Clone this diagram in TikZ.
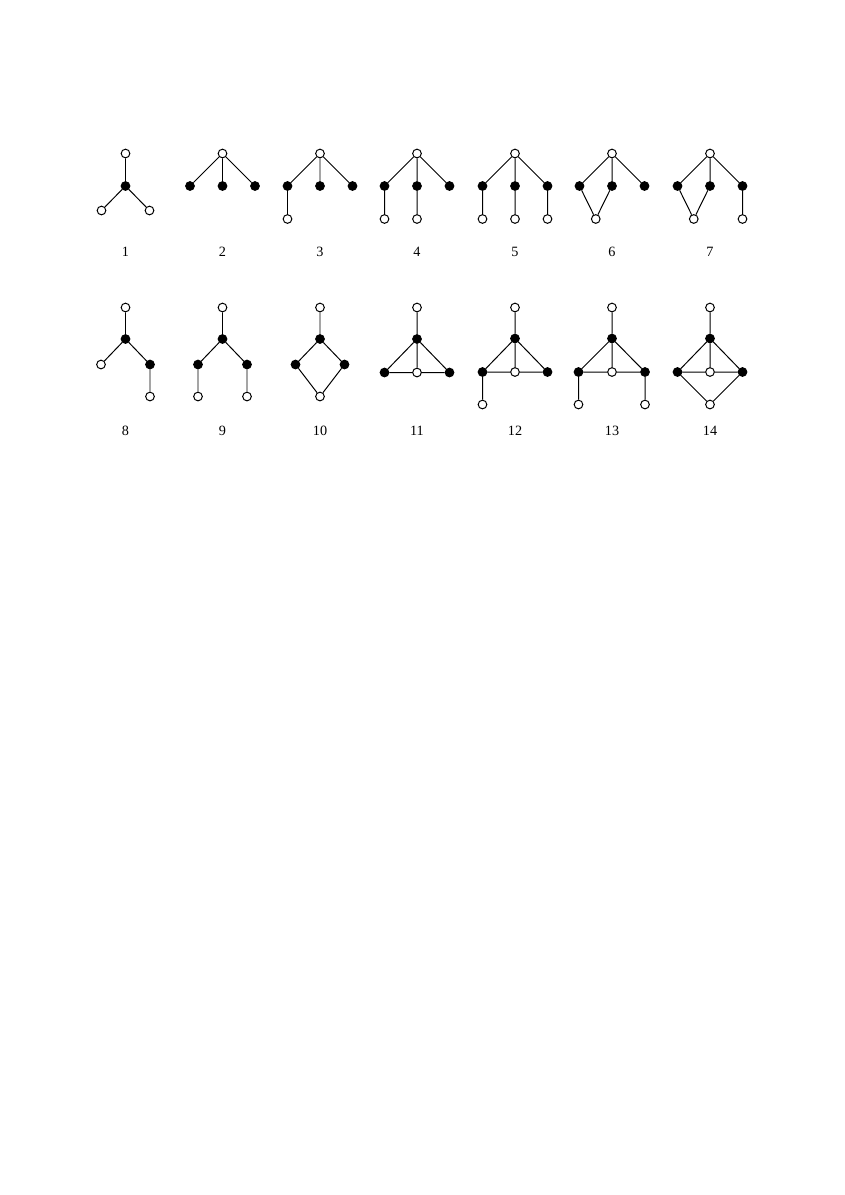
\documentclass[tikz,border=0pt]{standalone}
\usepackage{fontspec}
\setmainfont{Liberation Serif}
\begin{document}
\begin{tikzpicture}[x=0.7042pt,y=-0.7042pt,
  wn/.style={circle,draw=black,fill=white,line width=0.7pt,inner sep=0pt,minimum size=6.1pt},
  bn/.style={circle,draw=black,fill=black,line width=0.7pt,inner sep=0pt,minimum size=6.1pt},
  lbl/.style={font=\fontsize{10}{12}\selectfont,inner sep=0pt},
  edge/.style={line width=0.7pt}]
\useasboundingbox (0,0) rectangle (845,1195);
% ---------- Row 1 ----------
% Graph 1
\node[wn] (g1t) at (125.5,153.5) {};
\node[bn] (g1m) at (125.5,186) {};
\node[wn] (g1l) at (101.5,210.5) {};
\node[wn] (g1r) at (149.5,210.5) {};
\draw[edge] (g1t)--(g1m) (g1m)--(g1l) (g1m)--(g1r);
\node[lbl] (n1) at (125.5,251.5) {1};
% Graph 2
\node[wn] (g2t) at (222.5,153.5) {};
\node[bn] (g2a) at (190,186) {};
\node[bn] (g2b) at (222.5,186) {};
\node[bn] (g2c) at (255,186) {};
\draw[edge] (g2t)--(g2a) (g2t)--(g2b) (g2t)--(g2c);
\node[lbl] (n2) at (222.5,251.5) {2};
% Graph 3
\node[wn] (g3t) at (320,153.5) {};
\node[bn] (g3a) at (287.5,186) {};
\node[bn] (g3b) at (320,186) {};
\node[bn] (g3c) at (352.5,186) {};
\node[wn] (g3d) at (287.5,219) {};
\draw[edge] (g3t)--(g3a) (g3t)--(g3b) (g3t)--(g3c) (g3a)--(g3d);
\node[lbl] (n3) at (320,251.5) {3};
% Graph 4
\node[wn] (g4t) at (417,153.5) {};
\node[bn] (g4a) at (384.5,186) {};
\node[bn] (g4b) at (417,186) {};
\node[bn] (g4c) at (449.5,186) {};
\node[wn] (g4d) at (384.5,219) {};
\node[wn] (g4e) at (417,219) {};
\draw[edge] (g4t)--(g4a) (g4t)--(g4b) (g4t)--(g4c) (g4a)--(g4d) (g4b)--(g4e);
\node[lbl] (n4) at (417,251.5) {4};
% Graph 5
\node[wn] (g5t) at (515,153.5) {};
\node[bn] (g5a) at (482.5,186) {};
\node[bn] (g5b) at (515,186) {};
\node[bn] (g5c) at (547.5,186) {};
\node[wn] (g5d) at (482.5,219) {};
\node[wn] (g5e) at (515,219) {};
\node[wn] (g5f) at (547.5,219) {};
\draw[edge] (g5t)--(g5a) (g5t)--(g5b) (g5t)--(g5c) (g5a)--(g5d) (g5b)--(g5e) (g5c)--(g5f);
\node[lbl] (n5) at (515,251.5) {5};
% Graph 6
\node[wn] (g6t) at (612,153.5) {};
\node[bn] (g6a) at (579.5,186) {};
\node[bn] (g6b) at (612,186) {};
\node[bn] (g6c) at (644.5,186) {};
\node[wn] (g6d) at (595.75,219) {};
\draw[edge] (g6t)--(g6a) (g6t)--(g6b) (g6t)--(g6c) (g6a)--(g6d) (g6b)--(g6d);
\node[lbl] (n6) at (612,251.5) {6};
% Graph 7
\node[wn] (g7t) at (710,153.5) {};
\node[bn] (g7a) at (677.5,186) {};
\node[bn] (g7b) at (710,186) {};
\node[bn] (g7c) at (742.5,186) {};
\node[wn] (g7d) at (693.75,219) {};
\node[wn] (g7e) at (742.5,219) {};
\draw[edge] (g7t)--(g7a) (g7t)--(g7b) (g7t)--(g7c) (g7a)--(g7d) (g7b)--(g7d) (g7c)--(g7e);
\node[lbl] (n7) at (710,251.5) {7};
% ---------- Row 2 ----------
% Graph 8
\node[wn] (g8t) at (125.5,307.5) {};
\node[bn] (g8m) at (125.5,339) {};
\node[wn] (g8l) at (101,364.5) {};
\node[bn] (g8r) at (150,364.5) {};
\node[wn] (g8s) at (150,396.5) {};
\draw[edge] (g8t)--(g8m) (g8m)--(g8l) (g8m)--(g8r) (g8r)--(g8s);
\node[lbl] (n8) at (125.5,431) {8};
% Graph 9
\node[wn] (g9t) at (222.5,307.5) {};
\node[bn] (g9m) at (222.5,339) {};
\node[bn] (g9l) at (198,364.5) {};
\node[bn] (g9r) at (247,364.5) {};
\node[wn] (g9p) at (198,396.5) {};
\node[wn] (g9s) at (247,396.5) {};
\draw[edge] (g9t)--(g9m) (g9m)--(g9l) (g9m)--(g9r) (g9l)--(g9p) (g9r)--(g9s);
\node[lbl] (n9) at (222.5,431) {9};
% Graph 10
\node[wn] (g10t) at (320,307.5) {};
\node[bn] (g10m) at (320,339) {};
\node[bn] (g10l) at (295.5,364.5) {};
\node[bn] (g10r) at (344.5,364.5) {};
\node[wn] (g10b) at (320,396.5) {};
\draw[edge] (g10t)--(g10m) (g10m)--(g10l) (g10m)--(g10r) (g10l)--(g10b) (g10r)--(g10b);
\node[lbl] (n10) at (320,431) {10};
% Graph 11
\node[wn] (g11t) at (417,307.5) {};
\node[bn] (g11m) at (417,339) {};
\node[bn] (g11l) at (384.5,372.5) {};
\node[wn] (g11c) at (417,372.5) {};
\node[bn] (g11r) at (449.5,372.5) {};
\draw[edge] (g11t)--(g11m) (g11m)--(g11l) (g11m)--(g11c) (g11m)--(g11r) (g11l)--(g11c) (g11c)--(g11r);
\node[lbl] (n11) at (417,431) {11};
% Graph 12
\node[wn] (g12t) at (515,307.5) {};
\node[bn] (g12m) at (515,338.5) {};
\node[bn] (g12l) at (482.5,372) {};
\node[wn] (g12c) at (515,372) {};
\node[bn] (g12r) at (547.5,372) {};
\node[wn] (g12p) at (482.5,404.5) {};
\draw[edge] (g12t)--(g12m) (g12m)--(g12l) (g12m)--(g12c) (g12m)--(g12r) (g12l)--(g12c) (g12c)--(g12r) (g12l)--(g12p);
\node[lbl] (n12) at (515,431) {12};
% Graph 13
\node[wn] (g13t) at (612,307.5) {};
\node[bn] (g13m) at (612,338.5) {};
\node[bn] (g13l) at (578.5,372) {};
\node[wn] (g13c) at (612,372) {};
\node[bn] (g13r) at (645,372) {};
\node[wn] (g13p) at (578.5,404.5) {};
\node[wn] (g13s) at (645,404.5) {};
\draw[edge] (g13t)--(g13m) (g13m)--(g13l) (g13m)--(g13c) (g13m)--(g13r) (g13l)--(g13c) (g13c)--(g13r) (g13l)--(g13p) (g13r)--(g13s);
\node[lbl] (n13) at (612,431) {13};
% Graph 14
\node[wn] (g14t) at (710,307.5) {};
\node[bn] (g14m) at (710,338.5) {};
\node[bn] (g14l) at (677.5,372) {};
\node[wn] (g14c) at (710,372) {};
\node[bn] (g14r) at (742.5,372) {};
\node[wn] (g14b) at (710,404.5) {};
\draw[edge] (g14t)--(g14m) (g14m)--(g14l) (g14m)--(g14c) (g14m)--(g14r) (g14l)--(g14c) (g14c)--(g14r) (g14l)--(g14b) (g14r)--(g14b);
\node[lbl] (n14) at (710,431) {14};
\end{tikzpicture}
\end{document}
